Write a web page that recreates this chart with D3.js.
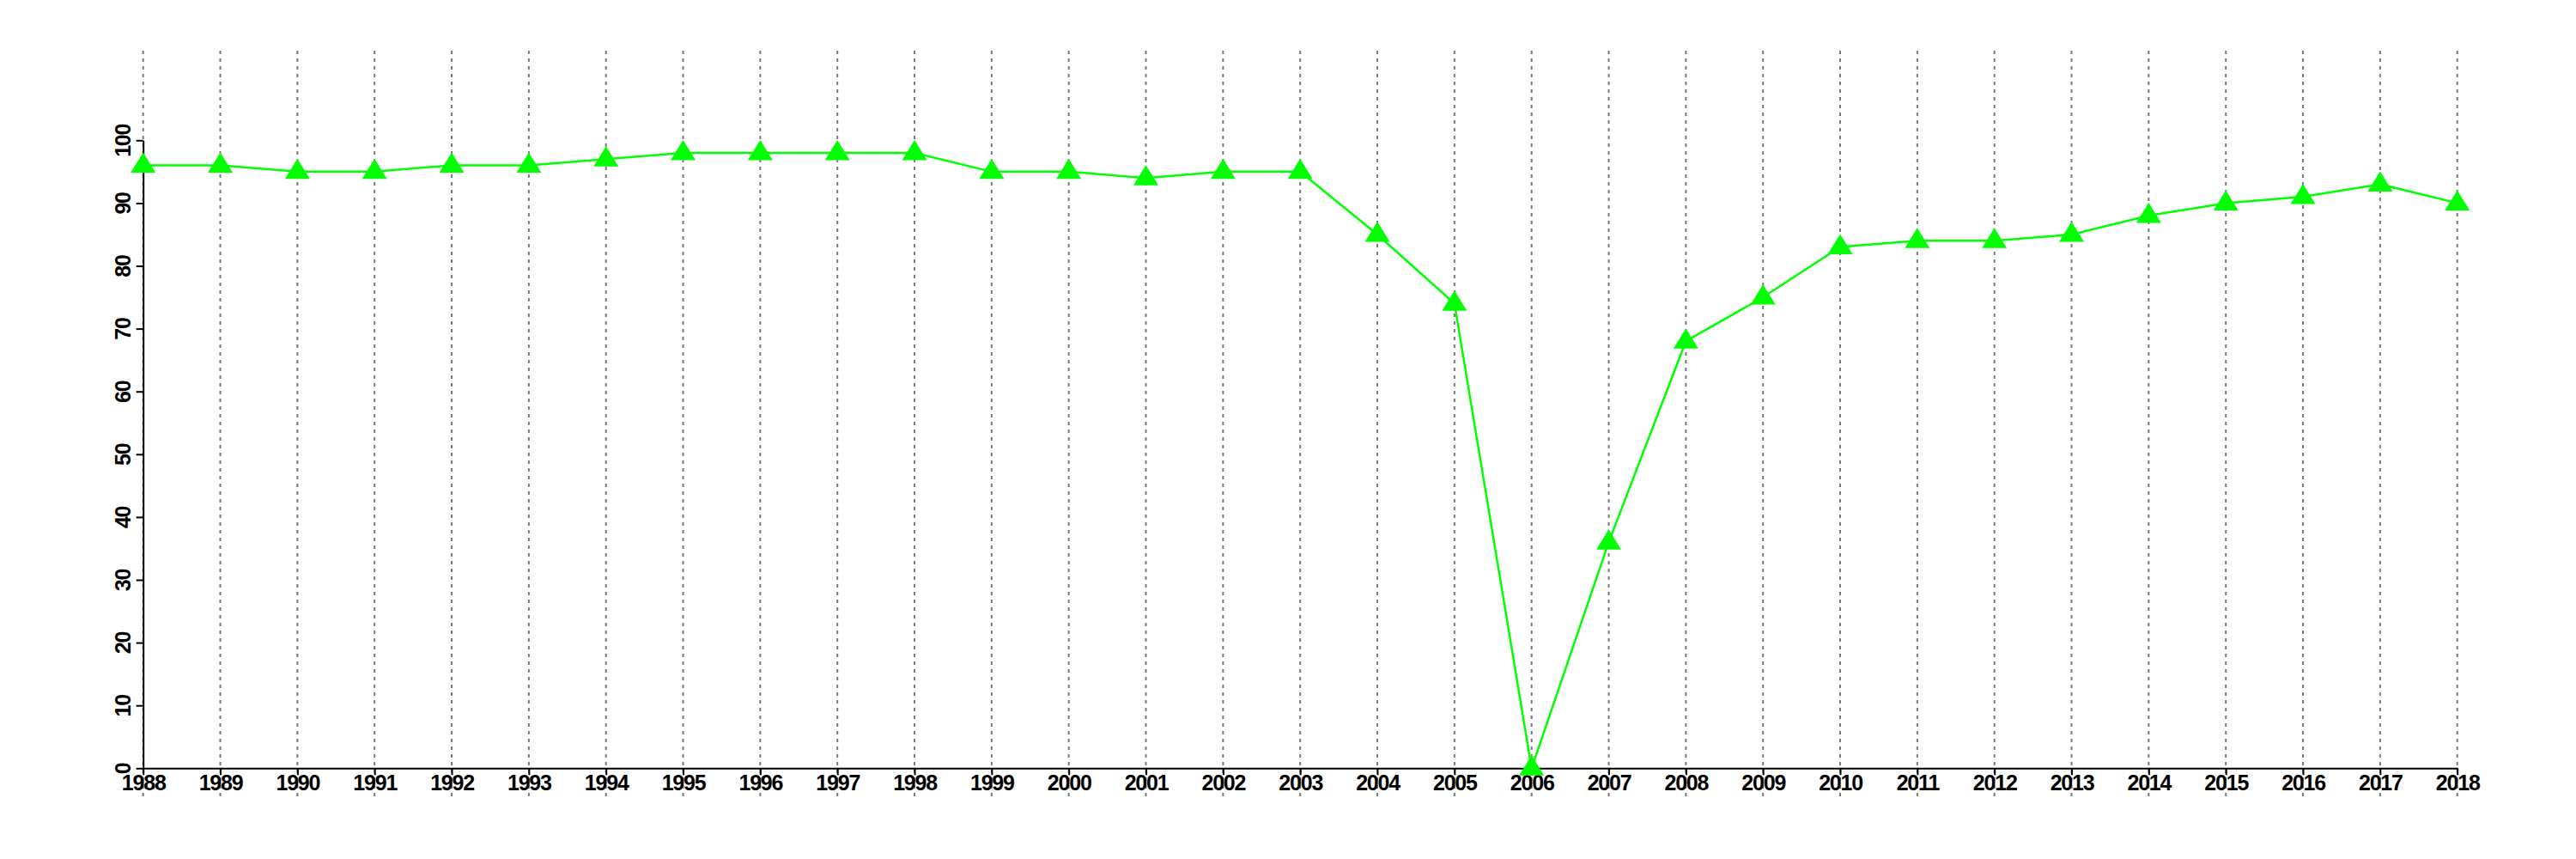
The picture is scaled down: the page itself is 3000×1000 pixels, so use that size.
<!DOCTYPE html>
<html>
<head>
<meta charset="utf-8">
<script src="https://cdn.jsdelivr.net/npm/d3@7"></script>
<style>
  html, body { margin: 0; padding: 0; background: #fff; }
  svg { display: block; }
</style>
</head>
<body>
<script>
const years = [1988,1989,1990,1991,1992,1993,1994,1995,1996,1997,1998,1999,2000,2001,2002,2003,2004,2005,2006,2007,2008,2009,2010,2011,2012,2013,2014,2015,2016,2017,2018];
const values = [96,96,95,95,96,96,97,98,98,98,98,95,95,94,95,95,85,74,0,36,68,75,83,84,84,85,88,90,91,93,90];
const yTicks = [0,10,20,30,40,50,60,70,80,90,100];

const W = 3000, H = 1000;
const svg = d3.select("body").append("svg").attr("width", W).attr("height", H);

const x = d3.scaleLinear().domain([1988, 2018]).range([166.7, 2861.7]);
const y = d3.scaleLinear().domain([0, 100]).range([894.3, 163.3]);

const font = "'Liberation Sans', Arial, Helvetica, sans-serif";

// vertical dotted grid lines
svg.append("g").selectAll("line").data(years).join("line")
  .attr("x1", d => x(d)).attr("x2", d => x(d))
  .attr("y1", 59).attr("y2", 927)
  .attr("stroke", "#7a7a7a").attr("stroke-width", 2)
  .attr("stroke-dasharray", "4,5");

// x axis
const xAxis = svg.append("g").attr("transform", `translate(0,${y(0)})`)
  .call(d3.axisBottom(x).tickValues(years).tickFormat(d3.format("d")).tickSize(8).tickSizeOuter(0));
xAxis.select(".domain").attr("stroke", "#000").attr("stroke-width", 2);
xAxis.selectAll(".tick line").attr("stroke", "#000").attr("stroke-width", 2);
xAxis.selectAll(".tick text")
  .attr("y", 26).attr("dy", 0)
  .attr("font-family", font).attr("font-weight", "bold")
  .attr("font-size", 25).attr("letter-spacing", "-1.2px")
  .attr("fill", "#000");

// y axis
const yAxis = svg.append("g").attr("transform", `translate(${x(1988)},0)`)
  .call(d3.axisLeft(y).tickValues(yTicks).tickFormat(d3.format("d")).tickSize(8).tickSizeOuter(0));
yAxis.select(".domain").attr("stroke", "#000").attr("stroke-width", 2);
yAxis.selectAll(".tick line").attr("stroke", "#000").attr("stroke-width", 2);
yAxis.selectAll(".tick text")
  .attr("x", 0).attr("y", 0).attr("dy", 0)
  .attr("transform", "translate(-15,0) rotate(-90)")
  .attr("text-anchor", "middle")
  .attr("font-family", font).attr("font-weight", "bold")
  .attr("font-size", 25).attr("letter-spacing", "-1.2px")
  .attr("fill", "#000");

const data = years.map((yr, i) => ({ yr, v: values[i] }));

// line
svg.append("path").datum(data)
  .attr("fill", "none").attr("stroke", "#00ff00").attr("stroke-width", 2.5)
  .attr("d", d3.line().x(d => x(d.yr)).y(d => y(d.v)));

// triangle markers
const tri = "M0,-15 L14.5,8.5 L-14.5,8.5 Z";
svg.append("g").selectAll("path").data(data).join("path")
  .attr("transform", d => `translate(${x(d.yr)},${y(d.v)})`)
  .attr("d", tri)
  .attr("fill", "#00ff00");
</script>
</body>
</html>
